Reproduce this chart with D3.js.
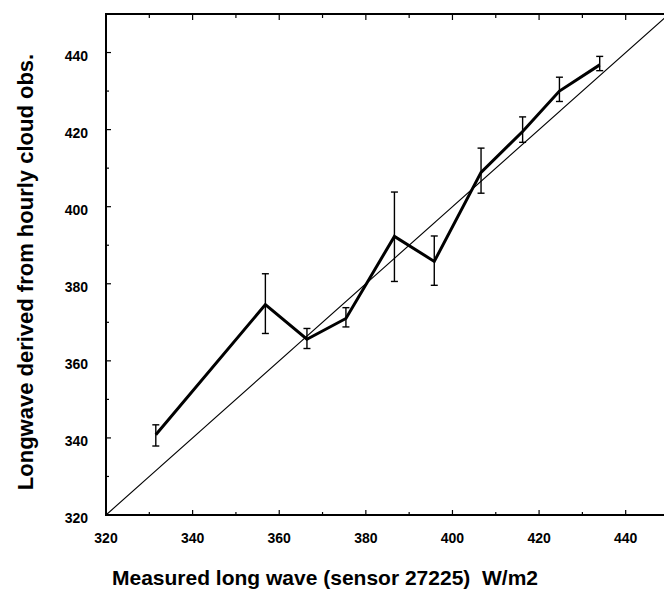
<!DOCTYPE html>
<html>
<head>
<meta charset="utf-8">
<script src="https://cdn.jsdelivr.net/npm/d3@7"></script>
<style>
  body { margin: 0; background: #fff; }
  text { font-family: "Liberation Sans", Arial, sans-serif; font-weight: bold; fill: #000; white-space: pre; }
</style>
</head>
<body>
<svg id="chart" width="664" height="591"></svg>
<script>
/* DATA */
const measured = [331.5, 356.8, 366.4, 375.4, 386.6, 395.8, 406.6, 416.2, 424.7, 434.0];
const derived  = [340.8, 374.6, 365.6, 371.0, 392.3, 385.8, 408.9, 419.5, 430.0, 436.8];
const errLow   = [337.9, 367.1, 363.2, 368.8, 380.6, 379.6, 403.5, 416.7, 427.3, 435.3];
const errHigh  = [343.4, 382.6, 368.4, 373.8, 403.8, 392.4, 415.2, 423.3, 433.6, 439.0];
const tickLabels = [320, 340, 360, 380, 400, 420, 440];
const minorTicks = [330, 350, 370, 390, 410, 430, 450];

const svg = d3.select("#chart");

const x = d3.scaleLinear().domain([320, 450]).range([106, 669]);
const y = d3.scaleLinear().domain([320, 450]).range([515, 14]);

const points = measured.map((m, i) => ({x: m, y: derived[i], lo: errLow[i], hi: errHigh[i]}));

// 1:1 line
svg.append("line")
  .attr("x1", x(320)).attr("y1", y(320))
  .attr("x2", x(450)).attr("y2", y(450))
  .attr("stroke", "#000").attr("stroke-width", 1.1);

// error bars
const eb = svg.append("g").attr("stroke", "#000").attr("stroke-width", 1.4);
points.forEach(d => {
  eb.append("line").attr("x1", x(d.x)).attr("x2", x(d.x)).attr("y1", y(d.lo)).attr("y2", y(d.hi));
  eb.append("line").attr("x1", x(d.x) - 3.5).attr("x2", x(d.x) + 3.5).attr("y1", y(d.lo)).attr("y2", y(d.lo));
  eb.append("line").attr("x1", x(d.x) - 3.5).attr("x2", x(d.x) + 3.5).attr("y1", y(d.hi)).attr("y2", y(d.hi));
});

// main curve
const line = d3.line().x(d => x(d.x)).y(d => y(d.y));
svg.append("path").datum(points)
  .attr("d", line)
  .attr("fill", "none")
  .attr("stroke", "#000")
  .attr("stroke-width", 3)
  .attr("stroke-linejoin", "miter");

// frame
const xLeft = x(320), xRight = x(450), yTop = y(450), yBottom = y(320);
svg.append("rect")
  .attr("x", xLeft).attr("y", yTop)
  .attr("width", xRight - xLeft).attr("height", yBottom - yTop)
  .attr("fill", "none").attr("stroke", "#000").attr("stroke-width", 2);

// ticks, all pointing inward
const tg = svg.append("g").attr("stroke", "#000").attr("stroke-width", 1.2);
tickLabels.concat(minorTicks).forEach(v => {
  const major = tickLabels.includes(v);
  const len = major ? 5 : 3;
  if (v > 320 && v < 450) {
    tg.append("line").attr("x1", x(v)).attr("x2", x(v)).attr("y1", yBottom).attr("y2", yBottom - len);
    tg.append("line").attr("x1", x(v)).attr("x2", x(v)).attr("y1", yTop).attr("y2", yTop + len + 1);
    tg.append("line").attr("y1", y(v)).attr("y2", y(v)).attr("x1", xLeft).attr("x2", xLeft + len);
    tg.append("line").attr("y1", y(v)).attr("y2", y(v)).attr("x1", xRight).attr("x2", xRight - len);
  }
});

// tick labels
svg.append("g").selectAll("text").data(tickLabels).join("text")
  .attr("x", d => x(d)).attr("y", yBottom + 28)
  .attr("text-anchor", "middle")
  .style("font-size", "14px")
  .text(d => d);

svg.append("g").selectAll("text").data(tickLabels).join("text")
  .attr("x", 88).attr("y", d => y(d) + 8)
  .attr("text-anchor", "end")
  .style("font-size", "14px")
  .text(d => d);

// axis titles
svg.append("text")
  .attr("x", 325).attr("y", 585)
  .attr("text-anchor", "middle")
  .style("font-size", "21px")
  .text("Measured long wave (sensor 27225)  W/m2");

svg.append("text")
  .attr("transform", "translate(33,272) rotate(-90)")
  .attr("text-anchor", "middle")
  .style("font-size", "22px")
  .text("Longwave derived from hourly cloud obs.");
</script>
</body>
</html>
